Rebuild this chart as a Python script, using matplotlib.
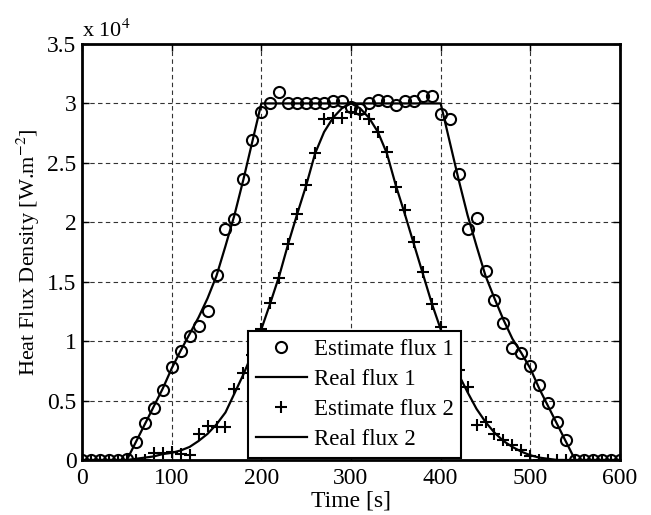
import numpy as np
import matplotlib
matplotlib.use('Agg')
import matplotlib.pyplot as plt

plt.rcParams['font.family'] = ['Liberation Serif', 'DejaVu Serif']
plt.rcParams['mathtext.fontset'] = 'stix'

# time grid of the estimates [s]
t_est = np.arange(0, 601, 10)

# estimated fluxes (x 10^4 W/m2)
est_flux1 = [0, 0, 0, 0, 0, 0.01,
             0.15, 0.31, 0.44, 0.59, 0.78, 0.92, 1.04, 1.13, 1.25, 1.56,
             1.94, 2.03, 2.36, 2.69, 2.93,
             3.0, 3.10, 3.0, 3.0, 3.0, 3.0, 3.0, 3.02, 3.02, 2.97,
             2.95, 3.0, 3.03, 3.02, 2.99, 3.02, 3.02, 3.06, 3.06, 2.91,
             2.87, 2.41, 1.94, 2.04, 1.59, 1.35, 1.15, 0.94, 0.90, 0.79,
             0.63, 0.48, 0.32, 0.17, 0.0,
             0, 0, 0, 0, 0]
est_flux2 = [0, 0, 0, 0, 0, 0,
             0, 0, 0.06, 0.06, 0.07, 0.05, 0.04, 0.22, 0.29, 0.28,
             0.28, 0.60, 0.73, 0.88, 1.10,
             1.32, 1.53, 1.82, 2.07, 2.31, 2.58, 2.87, 2.88, 2.88, 2.93,
             2.91, 2.87, 2.76, 2.59, 2.30, 2.10, 1.83, 1.585, 1.31, 1.12,
             0.92, 0.76, 0.61, 0.295, 0.32, 0.22, 0.17, 0.126, 0.084, 0.03,
             0, 0, 0, 0, 0,
             0, 0, 0, 0, 0]

# real fluxes
t_real1 = [0, 50, 60, 70, 80, 90, 100, 110, 120, 130, 140, 150, 160, 170, 180, 190, 200,
           400, 410, 420, 430, 440, 450, 460, 470, 480, 490, 500, 510, 520, 530, 540, 550, 600]
real_flux1 = [0, 0, 0.15, 0.30, 0.45, 0.60, 0.77, 0.92, 1.06, 1.20, 1.36, 1.55, 1.80, 2.06, 2.36, 2.68, 3.0,
              3.0, 2.68, 2.36, 2.06, 1.80, 1.55, 1.36, 1.18, 1.02, 0.90, 0.77, 0.60, 0.45, 0.30, 0.15, 0, 0]

t_real2 = np.arange(0, 601, 10)
real_flux2 = [0, 0, 0, 0, 0, 0,
              0.01, 0.02, 0.03, 0.05, 0.06, 0.08, 0.11, 0.16, 0.22, 0.30,
              0.40, 0.56, 0.72, 0.90, 1.10, 1.32, 1.55, 1.82, 2.07, 2.31,
              2.58, 2.76, 2.88, 2.96, 3.0,
              2.96, 2.88, 2.76, 2.58, 2.31, 2.07, 1.82, 1.57, 1.32, 1.10,
              0.90, 0.72, 0.57, 0.43, 0.32, 0.23, 0.16, 0.11, 0.07, 0.04,
              0.02, 0.01, 0, 0, 0, 0, 0, 0, 0, 0]

fig = plt.figure(figsize=(6.51, 5.15), dpi=100)
ax = fig.add_axes([82/651, 55/515, 538/651, 416/515])

ax.plot(t_est, est_flux1, 'o', color='black', mfc='none', ms=8, mew=1.5, label='Estimate flux 1', zorder=3)
ax.plot(t_real1, real_flux1, '-', color='black', lw=1.6, label='Real flux 1', zorder=3)
ax.plot(t_est, est_flux2, '+', color='black', ms=9, mew=1.5, label='Estimate flux 2', zorder=3)
ax.plot(t_real2, real_flux2, '-', color='black', lw=1.6, label='Real flux 2', zorder=3)

ax.set_xlim(0, 600)
ax.set_ylim(0, 3.5)
ax.set_xticks(np.arange(0, 601, 100))
ax.set_yticks([0, 0.5, 1, 1.5, 2, 2.5, 3, 3.5])
ax.set_yticklabels(['0', '0.5', '1', '1.5', '2', '2.5', '3', '3.5'])
ax.tick_params(direction='in', top=True, right=True, length=5, width=1, labelsize=17, pad=4)
ax.tick_params(axis='x', pad=6)
ax.grid(True, linestyle=(0, (4, 3)), color='#333333', lw=0.8)
for s in ax.spines.values():
    s.set_linewidth(2)

ax.text(0, 1.005, 'x 10$^4$', transform=ax.transAxes, ha='left', va='bottom', fontsize=16)
ax.set_xlabel('Time [s]', fontsize=17, labelpad=1)
ax.set_ylabel('Heat Flux Density [W.m$^{-2}$]', fontsize=16, labelpad=4)

leg = ax.legend(loc='lower left', bbox_to_anchor=(0.309, 0.004), fontsize=16.5, fancybox=False,
                framealpha=1, edgecolor='black', borderaxespad=0, handlelength=2.2,
                labelspacing=0.4, borderpad=0.35, handletextpad=0.3)
leg.get_frame().set_linewidth(1.5)

fig.savefig('out.png', dpi=100)
